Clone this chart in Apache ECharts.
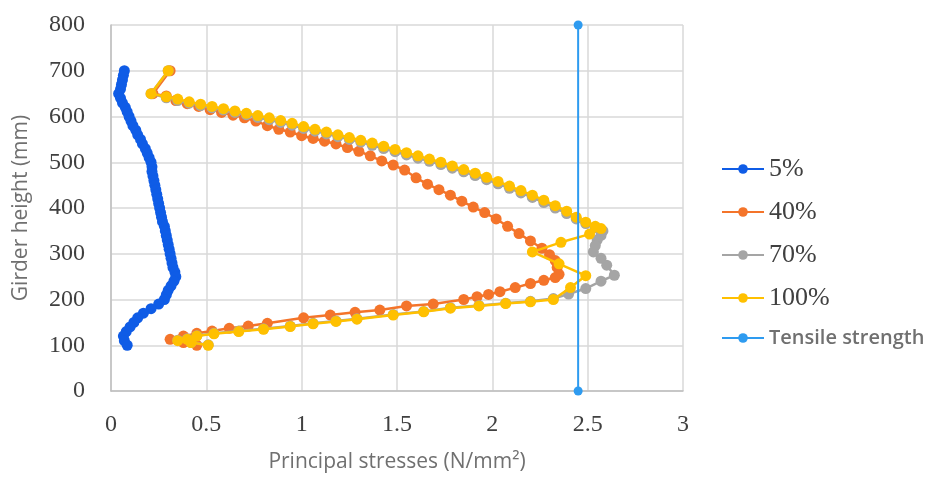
<!DOCTYPE html>
<html>
<head>
<meta charset="utf-8">
<script src="https://cdn.jsdelivr.net/npm/echarts@6/dist/echarts.min.js"></script>
<style>html,body{margin:0;padding:0;background:#fff;}#c{width:933px;height:478px;}</style>
</head>
<body>
<div id="c"></div>
<script>
// ---- data (x = principal stress N/mm², y = girder height mm) ----
const seriesNames = ['5%', '40%', '70%', '100%', 'Tensile strength'];
const xTicks = [0, 0.5, 1, 1.5, 2, 2.5, 3];
const yTicks = [0, 100, 200, 300, 400, 500, 600, 700, 800];

const s5 = [
  [0.07,700],[0.065,690],[0.06,680],[0.055,670],[0.05,660],[0.04,650],[0.05,640],[0.06,630],[0.075,620],[0.085,610],
  [0.095,600],[0.105,590],[0.115,580],[0.13,570],[0.14,560],[0.155,550],[0.165,540],[0.18,530],[0.19,520],[0.2,510],
  [0.21,500],[0.215,490],[0.215,480],[0.22,470],[0.225,460],[0.23,450],[0.235,440],[0.24,430],[0.245,420],[0.25,410],
  [0.255,400],[0.26,390],[0.265,380],[0.27,370],[0.28,360],[0.285,350],[0.29,340],[0.295,330],[0.3,320],[0.305,310],
  [0.31,300],[0.315,290],[0.32,280],[0.325,270],[0.335,260],[0.34,250],[0.33,240],[0.315,230],[0.3,220],[0.29,210],
  [0.28,200],[0.25,190],[0.21,180],[0.17,170],[0.14,160],[0.12,150],[0.1,140],[0.08,130],[0.065,120],[0.07,110],[0.085,100]
];

const s40 = [
  [0.31,700],[0.22,650],[0.29,645],[0.34,635],[0.40,628],[0.46,622],[0.52,615],[0.58,609],[0.64,603],[0.70,597],
  [0.76,590],[0.82,580],[0.88,572],[0.94,566],[1.00,558],[1.06,552],[1.12,546],[1.18,540],[1.24,532],[1.30,524],
  [1.36,514],[1.42,503],[1.48,494],[1.54,483],[1.60,466],[1.66,452],[1.72,440],[1.78,428],[1.84,415],[1.90,402],
  [1.96,390],[2.02,376],[2.08,360],[2.14,344],[2.20,328],[2.26,312],[2.30,298],[2.33,285],[2.34,270],[2.35,255],
  [2.33,248],[2.27,242],[2.20,235],[2.12,226],[2.04,217],[1.98,211],[1.92,206],[1.85,200],[1.69,190],[1.55,186],
  [1.41,177],[1.28,172],[1.15,166],[1.01,160],[0.82,148],[0.72,142],[0.62,137],[0.53,131],[0.45,126],[0.38,120],
  [0.31,113],[0.38,106],[0.45,100]
];

const s70 = [
  [0.30,700],[0.21,650],[0.29,641],[0.35,635],[0.41,629],[0.47,624],[0.53,619],[0.59,614],[0.65,609],[0.71,604],
  [0.77,598],[0.83,593],[0.89,587],[0.95,581],[1.01,574],[1.07,568],[1.13,562],[1.19,556],[1.25,550],[1.31,544],
  [1.37,537],[1.43,530],[1.49,523],[1.55,516],[1.61,509],[1.67,502],[1.73,495],[1.79,487],[1.85,479],[1.91,471],
  [1.97,462],[2.03,453],[2.09,443],[2.15,433],[2.21,423],[2.27,412],[2.33,400],[2.39,388],[2.44,376],[2.49,366],
  [2.54,357],[2.58,350],[2.57,340],[2.55,330],[2.54,318],[2.53,304],[2.57,290],[2.60,275],[2.64,253],[2.57,240],
  [2.49,224],[2.40,212],[2.32,202],[2.20,196],[2.07,192],[1.93,187],[1.78,182],[1.64,174],[1.48,167],[1.29,158],
  [1.18,153],[1.06,148],[0.94,142],[0.80,136],[0.67,131],[0.54,126],[0.45,121],[0.40,114],[0.35,111],[0.42,106],[0.51,101]
];

const s100 = [
  [0.30,700],[0.21,650],[0.29,643],[0.35,638],[0.41,632],[0.47,627],[0.53,622],[0.59,617],[0.65,612],[0.71,607],
  [0.77,602],[0.83,597],[0.89,591],[0.95,585],[1.01,578],[1.07,572],[1.13,566],[1.19,560],[1.25,554],[1.31,548],
  [1.37,542],[1.43,535],[1.49,528],[1.55,521],[1.61,514],[1.67,507],[1.73,500],[1.79,492],[1.85,484],[1.91,476],
  [1.97,467],[2.03,458],[2.09,448],[2.15,438],[2.21,428],[2.27,417],[2.33,405],[2.39,393],[2.44,380],[2.49,369],
  [2.54,360],[2.57,355],[2.51,343],[2.36,325],[2.21,304],[2.35,278],[2.49,252],[2.41,226],[2.32,200],[2.20,195],
  [2.07,191],[1.93,186],[1.78,181],[1.64,173],[1.48,166],[1.29,157],[1.18,152],[1.06,147],[0.94,141],[0.80,135],
  [0.67,130],[0.54,125],[0.45,120],[0.40,113],[0.35,110],[0.42,106],[0.51,100]
];

const tensile = [[2.45,0],[2.45,800]];

const colors = ['#0f5ce6', '#f4742a', '#a5a5a5', '#ffc000', '#2e9bf0'];

const chart = echarts.init(document.getElementById('c'), null, {renderer: 'canvas'});

function mk(name, data, color, size, width, z) {
  return {
    name: name, type: 'line', data: data, z: z,
    symbol: 'circle', symbolSize: size, showSymbol: true,
    lineStyle: {color: color, width: width},
    itemStyle: {color: color},
    emphasis: {disabled: true},
    animation: false
  };
}

const serif = "'Liberation Serif', 'DejaVu Serif', serif";
const sans = "'Open Sans', Lato, sans-serif";

chart.setOption({
  animation: false,
  backgroundColor: '#ffffff',
  grid: {left: 111, right: 250, top: 25, bottom: 85, containLabel: false},
  xAxis: {
    type: 'value', min: xTicks[0], max: xTicks[xTicks.length - 1], interval: 0.5,
    name: 'Principal stresses (N/mm\u00b2)', nameLocation: 'middle', nameGap: 61,
    nameTextStyle: {fontFamily: sans, fontSize: 21, color: '#707070'},
    axisLine: {show: true, lineStyle: {color: '#bfbfbf', width: 1.5}},
    axisTick: {show: false},
    axisLabel: {fontFamily: serif, fontSize: 24, color: '#404040', margin: 22},
    splitLine: {show: true, lineStyle: {color: '#d9d9d9', width: 1.5}}
  },
  yAxis: {
    type: 'value', min: yTicks[0], max: yTicks[yTicks.length - 1], interval: 100,
    name: 'Girder height (mm)', nameLocation: 'middle', nameGap: 79,
    nameTextStyle: {fontFamily: sans, fontSize: 21, color: '#707070'},
    axisLine: {show: true, lineStyle: {color: '#bfbfbf', width: 1.5}},
    axisTick: {show: false},
    axisLabel: {fontFamily: serif, fontSize: 24, color: '#404040', margin: 26},
    splitLine: {show: true, lineStyle: {color: '#d9d9d9', width: 1.5}}
  },
  legend: {
    orient: 'vertical', left: 716, top: 151,
    itemWidth: 42, itemHeight: 12, itemGap: 17,
    data: seriesNames,
    formatter: function (n) { return n === 'Tensile strength' ? '{s|' + n + '}' : '{p|' + n + '}'; },
    textStyle: {
      rich: {
        p: {fontFamily: serif, fontSize: 26, color: '#404040', lineHeight: 26},
        s: {fontFamily: sans, fontSize: 20, fontWeight: 600, color: '#707070', lineHeight: 26}
      }
    }
  },
  series: [
    mk(seriesNames[0], s5, colors[0], 11, 3, 2),
    mk(seriesNames[1], s40, colors[1], 11, 2.5, 3),
    mk(seriesNames[2], s70, colors[2], 11, 2.5, 4),
    mk(seriesNames[3], s100, colors[3], 11, 2.5, 5),
    mk(seriesNames[4], tensile, colors[4], 9, 2, 6)
  ]
});
</script>
</body>
</html>
